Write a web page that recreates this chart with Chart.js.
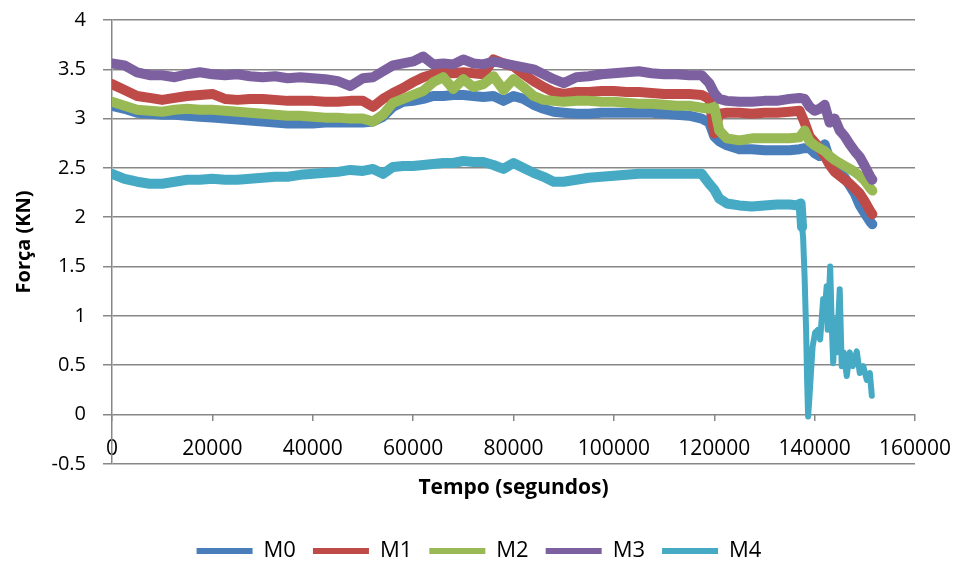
<!DOCTYPE html>
<html lang="pt">
<head>
<meta charset="utf-8">
<title>Força x Tempo</title>
<script src="https://cdn.jsdelivr.net/npm/chart.js@4.4.1/dist/chart.umd.min.js"></script>
<style>
  html, body { margin: 0; padding: 0; background: #fff; }
  #grafico { width: 958px; height: 572px; }
</style>
</head>
<body>
<div id="grafico"><canvas id="forcaChart"></canvas></div>
<script>
// Tempo (s) comum às séries M0..M3
const tempo = [
  0, 2500, 5000, 7500, 10000,
  12500, 15000, 17500, 20000,
  22500, 25000, 27500, 30000,
  32500, 35000, 37500, 40000,
  42500, 45000, 47500, 50000,
  52000, 54000, 56000, 58000, 60000,
  62000, 64000, 66000, 68000, 70000,
  72000, 74000, 76000, 78000, 80000,
  82000, 84000, 86000, 88000, 90000,
  92500, 95000, 97500, 100000,
  102500, 105000, 107500, 110000,
  112500, 115000, 117500,
  119000, 120000, 121000, 122500,
  125000, 127500, 130000, 132500, 135000,
  137000, 138000, 139000, 140000,
  141000, 142000, 143000, 144000, 145000, 146000, 147000, 148000, 149000, 150000, 151000,
  151500
];

// Força (KN)
const forcaM0 = [
  3.13, 3.10, 3.06, 3.05, 3.04,
  3.04, 3.03, 3.02, 3.01,
  3.00, 2.99, 2.98, 2.97,
  2.96, 2.95, 2.95, 2.95,
  2.96, 2.96, 2.96, 2.96,
  2.97, 3.02, 3.12, 3.17, 3.18,
  3.20, 3.23, 3.23, 3.24, 3.24,
  3.23, 3.22, 3.23, 3.18, 3.23,
  3.20, 3.14, 3.10, 3.07, 3.06,
  3.05, 3.05, 3.06, 3.06,
  3.06, 3.06, 3.06, 3.05,
  3.04, 3.03, 3.00,
  2.96, 2.82, 2.77, 2.73,
  2.69, 2.69, 2.68, 2.68, 2.68,
  2.69, 2.70, 2.70, 2.65,
  2.62, 2.74, 2.58, 2.52, 2.46, 2.40, 2.32, 2.24, 2.12, 2.04, 1.96,
  1.93
];

const forcaM1 = [
  3.35, 3.29, 3.23, 3.21, 3.19,
  3.21, 3.23, 3.24, 3.25,
  3.20, 3.19, 3.20, 3.20,
  3.19, 3.18, 3.18, 3.18,
  3.17, 3.17, 3.18, 3.18,
  3.12, 3.20, 3.26, 3.31, 3.37,
  3.42, 3.45, 3.47, 3.46, 3.47,
  3.46, 3.45, 3.60, 3.56, 3.53,
  3.45, 3.38, 3.32, 3.27, 3.25,
  3.27, 3.27, 3.28, 3.28,
  3.27, 3.27, 3.26, 3.25,
  3.25, 3.25, 3.24,
  3.20, 2.85, 3.05, 3.06,
  3.06, 3.05, 3.06, 3.06, 3.07,
  3.08, 2.96, 2.82, 2.76,
  2.70, 2.62, 2.53, 2.46, 2.42, 2.38, 2.34, 2.29, 2.24, 2.16, 2.07,
  2.03
];

const forcaM2 = [
  3.17, 3.13, 3.09, 3.08, 3.07,
  3.09, 3.10, 3.09, 3.09,
  3.08, 3.07, 3.06, 3.05,
  3.04, 3.03, 3.03, 3.02,
  3.01, 3.01, 3.00, 3.00,
  2.97, 3.04, 3.16, 3.20, 3.24,
  3.28, 3.37, 3.42, 3.30, 3.40,
  3.32, 3.35, 3.43, 3.29, 3.40,
  3.32, 3.23, 3.19, 3.18, 3.17,
  3.18, 3.18, 3.17, 3.17,
  3.16, 3.15, 3.15, 3.14,
  3.13, 3.13, 3.11,
  3.10, 3.12, 2.88, 2.80,
  2.78, 2.80, 2.80, 2.80, 2.80,
  2.81, 2.88, 2.77, 2.73,
  2.70, 2.67, 2.62, 2.58, 2.55, 2.52, 2.49, 2.46, 2.42, 2.37, 2.30,
  2.27
];

const forcaM3 = [
  3.56, 3.54, 3.47, 3.44, 3.44,
  3.42, 3.45, 3.47, 3.45,
  3.44, 3.45, 3.43, 3.42,
  3.43, 3.41, 3.42, 3.41,
  3.40, 3.38, 3.33, 3.41,
  3.42, 3.48, 3.54, 3.56, 3.58,
  3.63, 3.55, 3.56, 3.55, 3.60,
  3.56, 3.55, 3.58, 3.56, 3.54,
  3.52, 3.50, 3.45, 3.40, 3.36,
  3.42, 3.43, 3.45, 3.46,
  3.47, 3.48, 3.46, 3.45,
  3.45, 3.44, 3.44,
  3.36, 3.26, 3.20, 3.18,
  3.17, 3.17, 3.18, 3.18, 3.20,
  3.21, 3.20, 3.12, 3.08,
  3.10, 3.14, 2.96, 3.00, 2.88, 2.82, 2.74, 2.67, 2.61, 2.52, 2.42,
  2.38
];

// M4 tem mais pontos no fim (queda e oscilações)
const tempoM4 = [
  0, 2500, 5000, 7500, 10000,
  12500, 15000, 17500, 20000,
  22500, 25000, 27500, 30000,
  32500, 35000, 37500, 40000,
  42500, 45000, 47500, 50000,
  52000, 54000, 56000, 58000, 60000,
  62000, 64000, 66000, 68000, 70000,
  72000, 74000, 76000, 78000, 80000,
  82000, 84000, 86000, 88000, 90000,
  92500, 95000, 97500, 100000,
  102500, 105000, 107500, 110000,
  112500, 115000, 117500,
  119000, 120000, 121000, 122500,
  125000, 127500, 130000, 132500, 135000,
  136500, 137200, 137500, 137700, 138000, 138300, 138500, 138700,
  139000, 139300, 139600, 140100, 140700, 141100, 141700, 142000,
  142400, 142600, 143100, 143400, 143700, 144100, 144400, 145000,
  145400, 145800, 146400, 147000, 147600, 148400, 149000, 149700,
  150400, 151000, 151400
];

const forcaM4 = [
  2.44, 2.39, 2.36, 2.34, 2.34,
  2.36, 2.38, 2.38, 2.39,
  2.38, 2.38, 2.39, 2.40,
  2.41, 2.41, 2.43, 2.44,
  2.45, 2.46, 2.48, 2.47,
  2.49, 2.44, 2.51, 2.52, 2.52,
  2.53, 2.54, 2.55, 2.55, 2.57,
  2.56, 2.56, 2.53, 2.49, 2.55,
  2.50, 2.45, 2.41, 2.36, 2.36,
  2.38, 2.40, 2.41, 2.42,
  2.43, 2.44, 2.44, 2.44,
  2.44, 2.44, 2.44,
  2.34, 2.28, 2.19, 2.14,
  2.12, 2.11, 2.12, 2.13, 2.13,
  2.12, 2.14, 1.90, 1.80, 1.40, 0.86, 0.35, -0.02,
  0.20, 0.45, 0.69, 0.83, 0.86, 0.76, 1.17, 1.03,
  1.30, 0.86, 1.50, 0.93, 0.52, 0.96, 0.63, 1.27,
  0.49, 0.63, 0.39, 0.63, 0.49, 0.64, 0.42, 0.49,
  0.35, 0.42, 0.19
];

const series = ['M0', 'M1', 'M2', 'M3', 'M4'];
const cores = ['#4a7ebb', '#be4b48', '#98b954', '#7d60a0', '#46aac5'];

const cinza = '#878787';
const fonte = "'Open Sans', sans-serif";

function pontos(xs, ys) {
  return xs.map((t, i) => ({ x: t, y: ys[i] }));
}

const valores = [
  pontos(tempo, forcaM0),
  pontos(tempo, forcaM1),
  pontos(tempo, forcaM2),
  pontos(tempo, forcaM3),
  pontos(tempoM4, forcaM4)
];

// a última série fica por cima das anteriores
const datasets = series.map((nome, i) => ({
  label: nome,
  data: valores[i],
  borderColor: cores[i],
  backgroundColor: cores[i],
  order: series.length - i
}));

// depois da queda o traço de M4 é mais fino
datasets[4].segment = {
  borderWidth: ctx => (ctx.p0.parsed.x >= 137500 ? 6 : undefined)
};

Chart.defaults.font.family = fonte;
Chart.defaults.color = '#000';

new Chart(document.getElementById('forcaChart').getContext('2d'), {
  type: 'line',
  data: { datasets: datasets },
  options: {
    responsive: true,
    maintainAspectRatio: false,
    animation: false,
    layout: { padding: { top: 20, left: 0, right: 0, bottom: 0 } },
    elements: {
      point: { radius: 0 },
      line: {
        borderWidth: 10,
        tension: 0,
        borderJoinStyle: 'round',
        borderCapStyle: 'round'
      }
    },
    plugins: {
      tooltip: { enabled: false },
      legend: {
        position: 'bottom',
        labels: {
          usePointStyle: true,
          pointStyle: 'line',
          pointStyleWidth: 56,
          padding: 17,
          color: '#000',
          font: { size: 22 },
          sort: (a, b) => a.datasetIndex - b.datasetIndex,
          generateLabels: function (chart) {
            const itens = Chart.defaults.plugins.legend.labels.generateLabels(chart);
            itens.forEach(it => { it.lineWidth = 6; });
            return itens;
          }
        }
      }
    },
    scales: {
      // rótulos (acima da linha de -0.5) e título do eixo horizontal
      x: {
        type: 'linear',
        position: 'bottom',
        min: 0,
        max: 160000,
        grid: { display: false, drawTicks: false },
        border: { display: false },
        ticks: {
          stepSize: 20000,
          mirror: true,
          padding: 2,
          maxRotation: 0,
          color: '#000',
          font: { size: 21 },
          callback: v => String(v)
        },
        title: {
          display: true,
          text: 'Tempo (segundos)',
          color: '#000',
          font: { size: 21, weight: 'bold' },
          padding: { top: 8, bottom: 22 }
        }
      },
      // marcas do eixo horizontal sobre a linha do zero
      eixoZero: {
        type: 'linear',
        axis: 'x',
        position: { y: 0 },
        min: 0,
        max: 160000,
        ticks: { display: false, stepSize: 20000 },
        grid: { drawOnChartArea: false, tickLength: 7, color: cinza, lineWidth: 1.5 },
        border: { display: false }
      },
      y: {
        position: 'left',
        min: -0.5,
        max: 4,
        ticks: {
          stepSize: 0.5,
          padding: 17,
          color: '#000',
          font: { size: 20 },
          callback: v => String(v)
        },
        grid: { color: cinza, lineWidth: 1.5, tickLength: 9 },
        border: { color: cinza, width: 1.5 },
        title: {
          display: true,
          text: 'Força (KN)',
          color: '#000',
          font: { size: 20, weight: 'bold' },
          padding: { top: 12, bottom: 0 }
        },
        afterFit: function (scale) {
          // largura fixa; a margem de cima fica a cargo do layout
          scale.width = 112;
          scale.paddingTop = 0;
          scale.paddingBottom = 0;
        }
      },
      // espaço livre à direita da área do gráfico
      margemDireita: {
        type: 'linear',
        axis: 'y',
        position: 'right',
        ticks: { display: false },
        grid: { display: false },
        border: { display: false },
        afterFit: function (scale) { scale.width = 43; }
      }
    }
  }
});
</script>
</body>
</html>
